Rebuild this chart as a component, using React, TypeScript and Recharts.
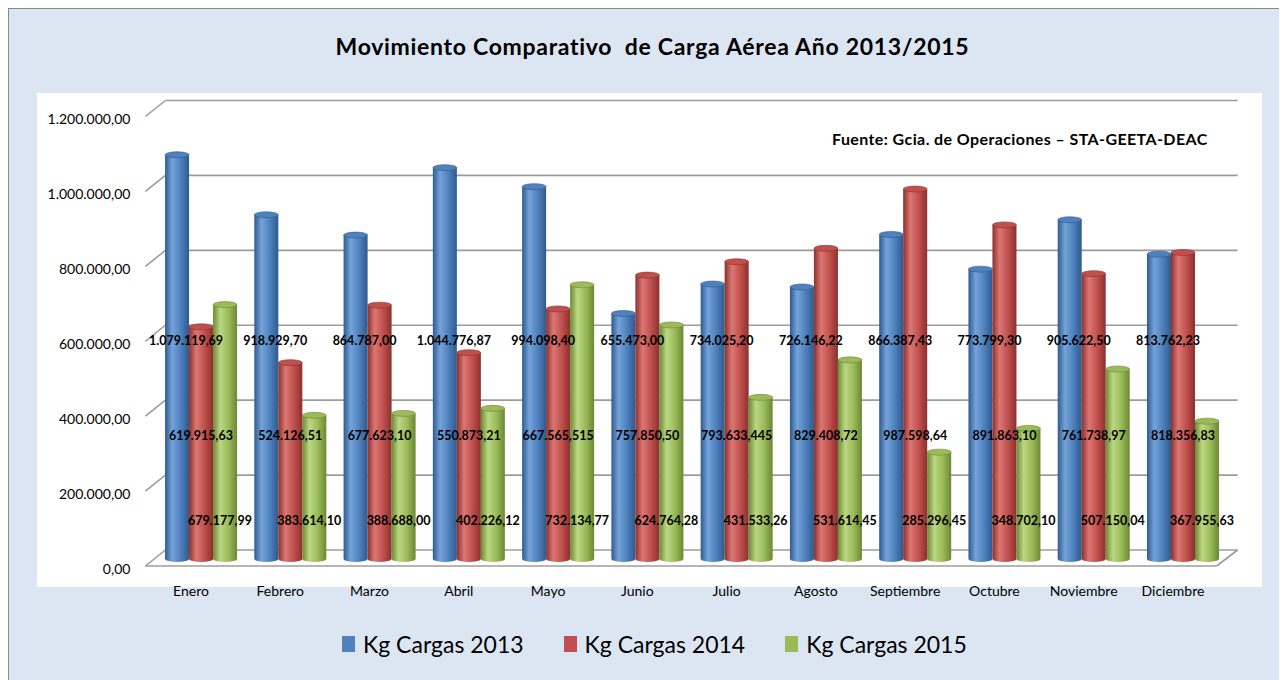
import { BarChart, Bar, XAxis, YAxis, CartesianGrid, LabelList } from 'recharts';

const months = ['Enero', 'Febrero', 'Marzo', 'Abril', 'Mayo', 'Junio', 'Julio', 'Agosto', 'Septiembre', 'Octubre', 'Noviembre', 'Diciembre'];

const kg2013 = [1079119.69, 918929.7, 864787.0, 1044776.87, 994098.4, 655473.0, 734025.2, 726146.22, 866387.43, 773799.3, 905622.5, 813762.23];
const kg2014 = [619915.63, 524126.51, 677623.1, 550873.21, 667565.515, 757850.5, 793633.445, 829408.72, 987598.64, 891863.1, 761738.97, 818356.83];
const kg2015 = [679177.99, 383614.1, 388688.0, 402226.12, 732134.77, 624764.28, 431533.26, 531614.45, 285296.45, 348702.1, 507150.04, 367955.63];

const yTicks = [0, 200000, 400000, 600000, 800000, 1000000, 1200000];

const data = months.map((m, i) => ({ month: m, a: kg2013[i], b: kg2014[i], c: kg2015[i] }));

const FONT = 'Lato, "Open Sans", sans-serif';

const CHART_W = 1275;
const CHART_H = 600;
const MARGIN = { top: 100.5, right: 56.4, left: 0, bottom: 20 };
const Y_WIDTH = 147.4;
const PLOT_LEFT = Y_WIDTH;
const PLOT_BOTTOM = CHART_H - MARGIN.bottom - 30;

// 1.234.567,89 style (es)
const fmt = (v: number, maxDec = 2) => {
  let s = v.toFixed(maxDec);
  let [int, dec] = s.split('.');
  while (dec.length > 2 && dec.endsWith('0')) dec = dec.slice(0, -1);
  int = int.replace(/\B(?=(\d{3})+(?!\d))/g, '.');
  return `${int},${dec}`;
};

const series = [
  { key: 'a', name: 'Kg Cargas 2013', color: '#4f81bd', dark: '#2e5a8e', light: '#74a3da', dx: 9, rise: 219 },
  { key: 'b', name: 'Kg Cargas 2014', color: '#c0504d', dark: '#8c302d', light: '#dc7773', dx: 0, rise: 124 },
  { key: 'c', name: 'Kg Cargas 2015', color: '#9bbb59', dark: '#6b8833', light: '#bcd783', dx: -5, rise: 39 },
];

const Cylinder = (props: any) => {
  const { x, y, width, height, gid, dark, color } = props;
  if (height == null || height <= 0) return null;
  const rx = width / 2;
  const ry = 3;
  const bottom = y + height;
  return (
    <g>
      <path
        d={`M${x},${y} L${x},${bottom} A${rx},${ry} 0 0 0 ${x + width},${bottom} L${x + width},${y} Z`}
        fill={`url(#${gid})`}
      />
      <ellipse cx={x + rx} cy={y} rx={rx} ry={ry} fill={color} stroke={dark} strokeWidth={0.6} />
    </g>
  );
};

const makeLabel = (dx: number, rise: number) => (p: any) => {
  const { x, y, width, height, value } = p;
  const cx = x + width / 2 + dx;
  const cy = y + height - rise;
  return (
    <text x={cx} y={cy} textAnchor="middle" dominantBaseline="central" fontFamily={FONT} fontWeight={700} fontSize={12.5} fill="#000">
      {fmt(value, 3)}
    </text>
  );
};

// back-wall gridline with the little 3D diagonal at the left
const GridLine = (p: any) => {
  const { x1, y1, x2 } = p;
  const isFloor = Math.abs(y1 - PLOT_BOTTOM) < 1;
  const st = { stroke: '#9c9c9c', strokeWidth: 1.6, fill: 'none' };
  return (
    <g key={p.key}>
      <line x1={x1 + 9} y1={y1 - 9} x2={x2 + 10} y2={y1 - 9} {...st} />
      <line x1={x1 - 11} y1={y1 + 7} x2={x1 + 9} y2={y1 - 9} {...st} />
      {isFloor && (
        <>
          <line x1={x1 - 11} y1={y1 + 7} x2={x2 - 11} y2={y1 + 7} {...st} />
          <line x1={x2 - 11} y1={y1 + 7} x2={x2 + 10} y2={y1 - 9} {...st} />
        </>
      )}
    </g>
  );
};

const YTick = (p: any) => {
  const { y, payload } = p;
  return (
    <text x={PLOT_LEFT - 26} y={y + 9} textAnchor="end" dominantBaseline="central" fontFamily={FONT} fontSize={14} fill="#000">
      {fmt(payload.value)}
    </text>
  );
};

const XTick = (p: any) => {
  const { x, payload } = p;
  return (
    <text x={x - 10} y={PLOT_BOTTOM + 31} textAnchor="middle" dominantBaseline="central" fontFamily={FONT} fontSize={14} fill="#000">
      {payload.value}
    </text>
  );
};

export default function App() {
  return (
    <div
      style={{
        position: 'relative',
        width: 1277,
        height: 680,
        boxSizing: 'border-box',
        border: '1px solid #8a8a8a',
        background: '#dce6f2',
        fontFamily: FONT,
      }}
    >
      {/* white plot panel */}
      <div style={{ position: 'absolute', left: 28, top: 84, width: 1225, height: 494, background: '#fff' }} />

      <div
        style={{
          position: 'absolute',
          left: 0,
          top: 23,
          width: 1275,
          textAlign: 'center',
          fontWeight: 700,
          fontSize: 23,
          letterSpacing: 0.7,
          color: '#000',
          whiteSpace: 'pre',
          paddingLeft: 12,
          boxSizing: 'border-box',
        }}
      >
        {'Movimiento Comparativo  de Carga Aérea Año 2013/2015'}
      </div>

      <div style={{ position: 'absolute', left: 823, top: 120, fontWeight: 700, fontSize: 16, letterSpacing: 0.4, color: '#000', whiteSpace: 'nowrap' }}>
        Fuente: Gcia. de Operaciones – STA-GEETA-DEAC
      </div>

      <div style={{ position: 'absolute', left: 0, top: 0 }}>
        <BarChart width={CHART_W} height={CHART_H} data={data} margin={MARGIN} barGap={0} barCategoryGap="9.7%">
          <defs>
            {series.map((s) => (
              <linearGradient key={s.key} id={`cyl-${s.key}`} x1="0" y1="0" x2="1" y2="0">
                <stop offset="0%" stopColor={s.dark} />
                <stop offset="30%" stopColor={s.light} />
                <stop offset="65%" stopColor={s.color} />
                <stop offset="100%" stopColor={s.dark} />
              </linearGradient>
            ))}
          </defs>
          <CartesianGrid vertical={false} horizontal={GridLine as any} />
          <XAxis dataKey="month" axisLine={false} tickLine={false} tick={<XTick />} height={30} interval={0} />
          <YAxis
            domain={[0, 1200000]}
            ticks={yTicks}
            axisLine={false}
            tickLine={false}
            tick={<YTick />}
            width={Y_WIDTH}
          />
          {series.map((s) => (
            <Bar
              key={s.key}
              dataKey={s.key}
              name={s.name}
              fill={s.color}
              isAnimationActive={false}
              shape={(bp: any) => <Cylinder {...bp} gid={`cyl-${s.key}`} dark={s.dark} color={s.color} />}
            >
              <LabelList dataKey={s.key} content={makeLabel(s.dx, s.rise)} />
            </Bar>
          ))}
        </BarChart>
      </div>

      {/* legend */}
      <div style={{ position: 'absolute', left: 333, top: 621, display: 'flex', alignItems: 'center', fontSize: 23, color: '#000' }}>
        {series.map((s, i) => (
          <div key={s.key} style={{ display: 'flex', alignItems: 'center', marginLeft: i === 0 ? 0 : 40 }}>
            <span style={{ display: 'inline-block', width: 13, height: 16, background: s.color, marginRight: 8 }} />
            <span>{s.name}</span>
          </div>
        ))}
      </div>
    </div>
  );
}
